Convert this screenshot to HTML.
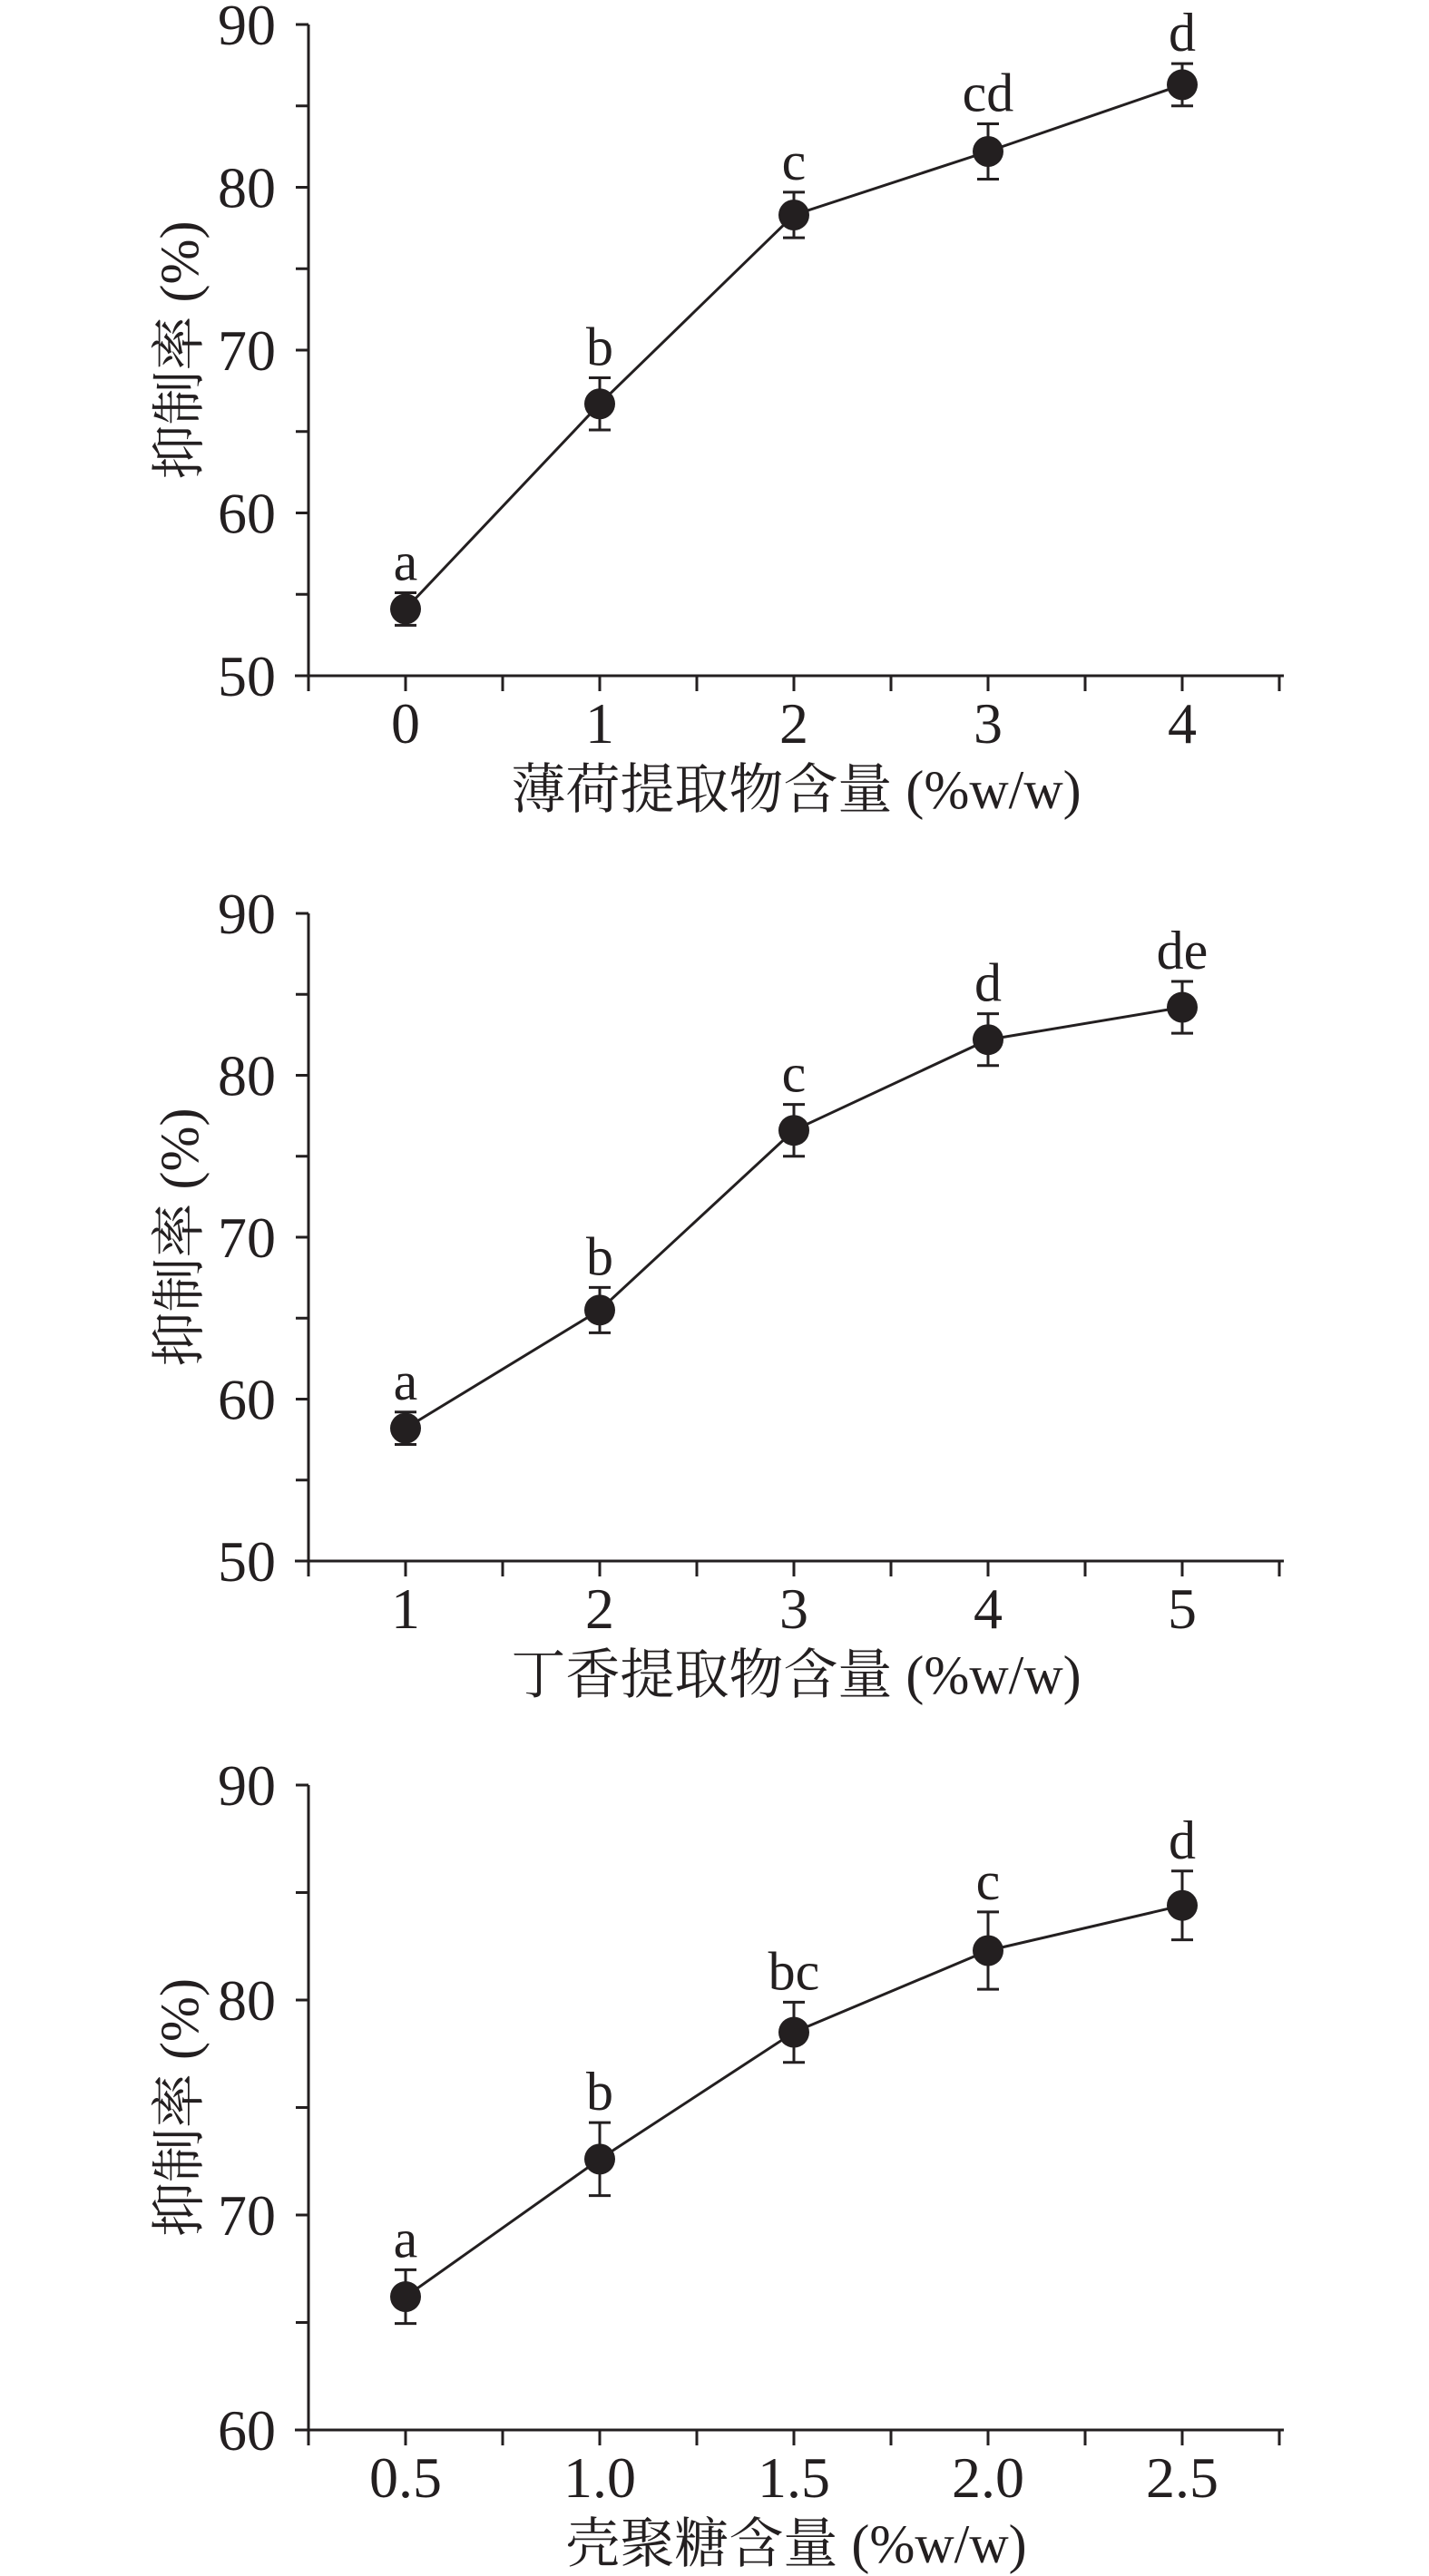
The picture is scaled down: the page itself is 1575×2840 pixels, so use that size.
<!DOCTYPE html>
<html><head><meta charset="utf-8">
<style>
html,body{margin:0;padding:0;background:#fff;}
svg{display:block;}
text{font-family:"Liberation Serif","Noto Serif CJK SC",serif;fill:#231f20;}
</style></head>
<body>
<svg id="fig" width="1575" height="2840" viewBox="0 0 1575 2840" xmlns="http://www.w3.org/2000/svg"></svg>
<script>
// chart 1 data
const c1Cats = ["0","1","2","3","4"];
const c1Vals = [54.1, 66.7, 78.3, 82.2, 86.3];
const c1Errs = [1.0, 1.6, 1.4, 1.7, 1.3];
const c1Letters = ["a","b","c","cd","d"];
const c1YTicks = [50,60,70,80,90];
// chart 2 data
const c2Cats = ["1","2","3","4","5"];
const c2Vals = [58.2, 65.5, 76.6, 82.2, 84.2];
const c2Errs = [1.0, 1.4, 1.6, 1.6, 1.6];
const c2Letters = ["a","b","c","d","de"];
const c2YTicks = [50,60,70,80,90];
// chart 3 data
const c3Cats = ["0.5","1.0","1.5","2.0","2.5"];
const c3Vals = [66.2, 72.6, 78.5, 82.3, 84.4];
const c3Errs = [1.25, 1.7, 1.4, 1.8, 1.6];
const c3Letters = ["a","b","bc","c","d"];
const c3YTicks = [60,70,80,90];

const NS="http://www.w3.org/2000/svg";
const svg=document.getElementById('fig');
function mk(tag,attrs,parent){const e=document.createElementNS(NS,tag);for(const k in attrs)e.setAttribute(k,attrs[k]);(parent||svg).appendChild(e);return e;}

function chart(id,cats,vals,errs,letters,yTicks,top,bottom,xTitle){
  const g=mk('g',{});
  
  
  const ax0=340, ax1=1415, x0=447, dx=214;
  const ymin=yTicks[0], ymax=yTicks[yTicks.length-1];
  const X=i=>x0+dx*i;
  const Y=v=>bottom-(v-ymin)/(ymax-ymin)*(bottom-top);
  const st={stroke:'#231f20','stroke-width':3,fill:'none'};
  const ya=mk('line',Object.assign({x1:ax0,y1:top,x2:ax0,y2:bottom},st),g);
  
  
  const xa=mk('line',Object.assign({x1:ax0-15,y1:bottom,x2:ax1,y2:bottom},st),g);
  
  
  for(let i=0;i<yTicks.length;i++){
    const y=Y(yTicks[i]);
    mk('line',Object.assign({x1:ax0-14,y1:y,x2:ax0,y2:y},st),g);
    const t=mk('text',{x:304,y:y+22,'text-anchor':'end','font-size':64},g);
    t.textContent=yTicks[i];
    
    
    if(i<yTicks.length-1){const ym=Y(yTicks[i]+5);mk('line',Object.assign({x1:ax0-14,y1:ym,x2:ax0,y2:ym},st),g);}
  }
  for(let k=0;k<=10;k++){const x=ax0+(dx/2)*k;mk('line',Object.assign({x1:x,y1:bottom,x2:x,y2:bottom+17},st),g);}
  for(let i=0;i<cats.length;i++){
    const t=mk('text',{x:X(i),y:bottom+74,'text-anchor':'middle','font-size':64},g);
    t.textContent=cats[i];
    
    
  }
  const xt=mk('text',{x:(ax0+ax1)/2,y:bottom+146,'text-anchor':'middle','font-size':60},g);
  xt.textContent=xTitle;
  
  
  const cy=(top+bottom)/2;
  const yt=mk('text',{x:0,y:0,'text-anchor':'middle','font-size':60,transform:`translate(218,${cy}) rotate(-90)`},g);
  yt.textContent='抑制率 (%)';
  
  
  let d='';
  for(let i=0;i<vals.length;i++)d+=(i?'L':'M')+X(i)+','+Y(vals[i]);
  const ln=mk('path',{d:d,stroke:'#231f20','stroke-width':3,fill:'none'},g);
  
  
  for(let i=0;i<vals.length;i++){
    const x=X(i),yt2=Y(vals[i]+errs[i]),yb=Y(vals[i]-errs[i]);
    const eb=mk('path',{d:`M${x},${yt2}V${yb}M${x-12},${yt2}H${x+12}M${x-12},${yb}H${x+12}`,stroke:'#231f20','stroke-width':3,fill:'none'},g);
    
    
    const c=mk('circle',{cx:x,cy:Y(vals[i]),r:17,fill:'#231f20'},g);
    
    
    const lt=mk('text',{x:x,y:yt2-14,'text-anchor':'middle','font-size':60},g);
    lt.textContent=letters[i];
    
    
  }
}
chart('chart-mint',c1Cats,c1Vals,c1Errs,c1Letters,c1YTicks,27,745,'薄荷提取物含量 (%w/w)');
chart('chart-clove',c2Cats,c2Vals,c2Errs,c2Letters,c2YTicks,1007,1721,'丁香提取物含量 (%w/w)');
chart('chart-chitosan',c3Cats,c3Vals,c3Errs,c3Letters,c3YTicks,1968,2679,'壳聚糖含量 (%w/w)');
</script>
</body></html>
